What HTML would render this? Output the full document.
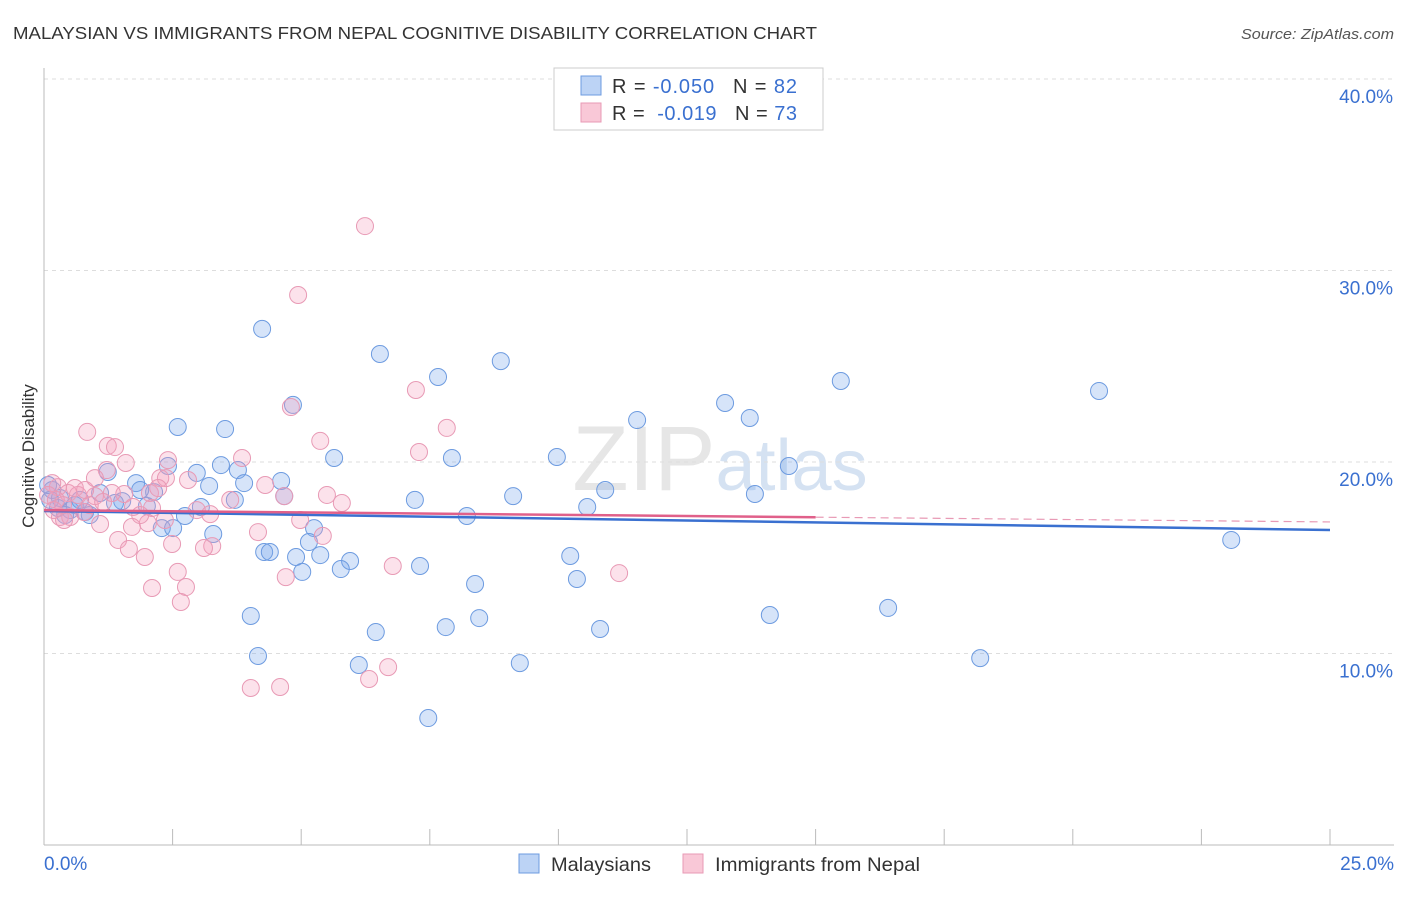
<!DOCTYPE html>
<html><head><meta charset="utf-8">
<style>
body{margin:0;background:#fff;font-family:"Liberation Sans",sans-serif;}
svg text{font-family:"Liberation Sans",sans-serif;}
</style></head>
<body>
<svg id="chart" width="1406" height="892" viewBox="0 0 1406 892" xmlns="http://www.w3.org/2000/svg">
<text x="13" y="39" font-size="17.5" fill="#333" textLength="804" lengthAdjust="spacingAndGlyphs">MALAYSIAN VS IMMIGRANTS FROM NEPAL COGNITIVE DISABILITY CORRELATION CHART</text>
<text x="1241" y="39" font-size="15" fill="#555" font-style="italic" textLength="153" lengthAdjust="spacingAndGlyphs">Source: ZipAtlas.com</text>
<text x="720" y="490" font-size="92" fill="#e6e6e6" text-anchor="middle" font-family="Liberation Serif">ZIP<tspan font-family="Liberation Sans" fill="#d5e2f2" font-size="72">atlas</tspan></text>
<text transform="translate(34,456) rotate(-90)" font-size="17" fill="#333" text-anchor="middle">Cognitive Disability</text>
<g id="grid"></g><g id="axes"></g><g id="pts"></g><g id="lines"></g>
<g>
<rect x="554" y="68" width="269" height="62" fill="#fff" stroke="#ccc"/>
<rect x="581" y="76" width="20" height="19" fill="#bcd3f5" stroke="#6d9be0"/>
<rect x="581" y="103" width="20" height="19" fill="#f9c8d7" stroke="#e89ab5"/>
<text x="612" y="93" font-size="20" fill="#333" textLength="185" lengthAdjust="spacing">R = <tspan fill="#3a70d0">-0.050</tspan><tspan dx="18">N = </tspan><tspan fill="#3a70d0">82</tspan></text>
<text x="612" y="120" font-size="20" fill="#333" textLength="185" lengthAdjust="spacing">R = <tspan dx="6" fill="#3a70d0">-0.019</tspan><tspan dx="18">N = </tspan><tspan fill="#3a70d0">73</tspan></text>
</g>
<g>
<rect x="519" y="854" width="20" height="19" fill="#bcd3f5" stroke="#6d9be0"/>
<text x="551" y="871" font-size="19.5" fill="#333" textLength="100" lengthAdjust="spacingAndGlyphs">Malaysians</text>
<rect x="683" y="854" width="20" height="19" fill="#f9c8d7" stroke="#e89ab5"/>
<text x="715" y="871" font-size="19.5" fill="#333" textLength="205" lengthAdjust="spacingAndGlyphs">Immigrants from Nepal</text>
</g>
</svg>
<script>
const yTicks=[10,20,30,40];
const yTickLabels=["10.0%","20.0%","30.0%","40.0%"];
const xTickLabels=["0.0%","25.0%"];
const blueX=[4.24,6.53,8.88,7.66,15.49,20.51,4.84,13.24,13.72,11.53,2.60,3.52,5.64,7.93,9.97,14.48,2.41,3.44,3.77,2.97,1.24,4.61,1.79,3.89,3.21,2.14,1.87,1.09,10.91,9.12,7.21,13.82,3.71,4.67,1.52,2.00,1.38,3.05,0.27,0.51,0.80,10.56,8.22,2.74,2.29,2.51,5.25,3.29,5.15,4.28,4.39,4.90,5.37,5.95,5.77,5.02,7.31,10.23,10.36,8.38,23.08,16.41,4.02,8.46,14.11,7.81,6.45,10.81,4.16,6.12,9.25,18.20,7.47,0.16,0.12,0.31,0.60,0.89,0.41,0.08,0.70];
const blueY=[26.95,25.64,25.27,24.44,24.23,23.71,22.98,23.08,22.30,22.19,21.83,21.72,20.21,20.21,20.26,19.79,19.79,19.84,19.58,19.43,19.48,19.01,18.90,18.90,18.75,18.43,18.54,18.38,18.54,18.22,18.02,18.33,18.02,18.22,17.96,17.70,17.86,17.65,17.60,17.49,17.39,17.65,17.18,17.18,16.55,16.55,16.55,16.24,15.82,15.30,15.30,15.04,15.14,14.83,14.41,14.26,14.57,15.09,13.89,13.63,15.93,12.38,11.96,11.85,12.01,11.38,11.12,11.28,9.87,9.40,9.50,9.76,6.63,18.54,18.02,18.12,17.75,17.23,17.23,18.80,18.02];
const pinkX=[6.24,4.94,7.23,4.80,7.83,0.84,5.37,1.24,1.38,7.29,3.85,2.41,1.59,1.22,2.26,2.37,2.80,0.27,0.47,0.66,0.99,1.56,1.32,2.06,2.22,4.67,5.50,5.79,1.73,2.10,2.97,3.23,0.31,0.51,0.78,1.09,1.71,2.02,1.44,2.49,3.27,3.11,4.16,5.42,1.65,1.96,6.78,11.18,4.70,2.60,2.76,2.10,2.66,4.02,4.59,6.32,6.69,0.39,0.16,0.23,0.60,0.89,1.15,1.87,2.35,3.62,4.98,4.30,0.37,0.08,0.19,0.80,0.99];
const pinkY=[32.32,28.72,23.76,22.87,21.78,21.57,21.10,20.84,20.78,20.52,20.21,20.10,19.95,19.58,19.16,19.16,19.06,18.69,18.38,18.28,18.22,18.33,18.38,18.38,18.64,18.22,18.28,17.86,17.65,17.60,17.49,17.28,17.13,17.13,17.39,16.76,16.61,16.81,15.93,15.72,15.61,15.51,16.34,16.14,15.46,15.04,14.57,14.20,13.99,14.26,13.47,13.42,12.69,8.20,8.25,8.67,9.29,16.97,18.90,18.02,18.64,17.75,17.91,17.23,16.97,18.02,16.97,18.80,17.75,18.28,17.49,18.54,19.16];
const blueFit=[17.44,16.45];
const pinkFit=[17.49,16.87];
const pinkSolidEnd=15;
const NS="http://www.w3.org/2000/svg";
const xS=v=>44+v*51.44, yS=v=>845-v*19.15;
function mk(tag,attrs,parent){const e=document.createElementNS(NS,tag);for(const k in attrs)e.setAttribute(k,attrs[k]);document.getElementById(parent).appendChild(e);return e;}
yTicks.forEach((t,i)=>{
 const g=mk('line',{x1:44,x2:1394,y1:yS(t),y2:yS(t),stroke:'#ddd','stroke-dasharray':'4,4'},'grid');
 
 
 const tx=mk('text',{x:1393,y:yS(t)+24,'font-size':19,fill:'#3a70d0','text-anchor':'end'},'axes');
 tx.textContent=yTickLabels[i];
 
 
});
const ax=mk('line',{x1:44,x2:44,y1:68,y2:845,stroke:'#bbb'},'axes');


const bx=mk('line',{x1:44,x2:1394,y1:845,y2:845,stroke:'#bbb'},'axes');


for(let i=0;i<=10;i++){const v=i*2.5;const t=mk('line',{x1:xS(v),x2:xS(v),y1:829,y2:845,stroke:'#bbb'},'axes');
 
 }
[0,25].forEach((v,i)=>{const t=mk('text',{x:i?1394:44,y:870,'font-size':19,fill:'#3a70d0','text-anchor':i?'end':'start'},'axes');t.textContent=xTickLabels[i];
 
 });
blueX.forEach((x,i)=>{const c=mk('circle',{cx:xS(x),cy:yS(blueY[i]),r:8.5,fill:'rgba(120,165,235,0.3)',stroke:'#6d9be0','stroke-width':1},'pts');
 
 });
pinkX.forEach((x,i)=>{const c=mk('circle',{cx:xS(x),cy:yS(pinkY[i]),r:8.5,fill:'rgba(245,160,190,0.3)',stroke:'#e89ab5','stroke-width':1},'pts');
 
 });
const bl=mk('line',{x1:xS(0),y1:yS(blueFit[0]),x2:xS(25),y2:yS(blueFit[1]),stroke:'#3a70d0','stroke-width':2.5},'lines');


const pm=pinkFit[0]+(pinkFit[1]-pinkFit[0])*pinkSolidEnd/25;
const pl=mk('line',{x1:xS(0),y1:yS(pinkFit[0]),x2:xS(pinkSolidEnd),y2:yS(pm),stroke:'#e0608a','stroke-width':2.5},'lines');


const pd=mk('line',{x1:xS(pinkSolidEnd),y1:yS(pm),x2:xS(25),y2:yS(pinkFit[1]),stroke:'#e89ab5','stroke-width':1.2,'stroke-dasharray':'8,5'},'lines');


</script>
</body></html>
